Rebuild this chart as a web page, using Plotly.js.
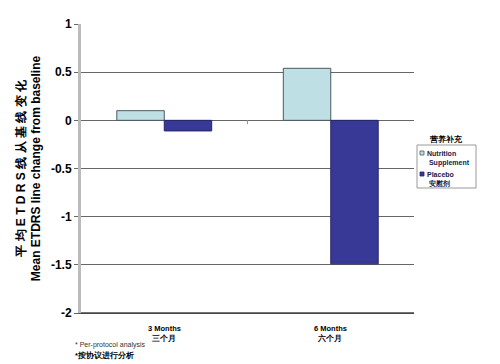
<!DOCTYPE html>
<html><head><meta charset="utf-8">
<script src="https://cdn.plot.ly/plotly-3.0.1.min.js"></script>
<style>body{margin:0}#c{width:500px;height:364px}</style></head>
<body><div id="c"></div>
<script>
const categories = ["3 Months<br>三个月", "6 Months<br>六个月"];
const nutrition = [0.10, 0.54];
const placebo = [-0.11, -1.49];
const seriesNames = ["Nutrition<br>Supplement", "Placebo<br>安慰剂"];
const legendTitle = "营养补充";
const yTicks = [1, 0.5, 0, -0.5, -1, -1.5, -2];

const font = "Liberation Sans, Arial, sans-serif";
const colors = ["#BEE0E4", "#383896"];
const edges = ["#4a5a60", "#25256a"];
const traces = [nutrition, placebo].map((v,i)=>({type:"bar", x:categories, y:v,
  name:seriesNames[i], showlegend:false,
  marker:{color:colors[i], line:{color:edges[i], width:1}}}));

// custom legend (paper coords: plot area is x 81..414, y 24..313 px)
const W = 333, H = 289;
const px = x => (x-81)/W, py = y => (313-y)/H;
const legendShapes = [
  {type:"rect", xref:"paper", yref:"paper", x0:px(417), x1:px(476), y0:py(188), y1:py(145),
   line:{color:"#999", width:1}, fillcolor:"#fff"},
  ...[151, 172].map((y,i)=>({type:"rect", xref:"paper", yref:"paper",
   x0:px(420), x1:px(424), y0:py(y+4), y1:py(y), fillcolor:colors[i],
   line:{color:edges[i], width:0.8}}))
];
const legendAnn = [
  {xref:"paper", yref:"paper", x:px(446), y:py(139), xanchor:"center", yanchor:"middle",
   text:"<b>"+legendTitle+"</b>", showarrow:false, font:{size:7.5, family:font}},
  ...[148, 169].map((y,i)=>({xref:"paper", yref:"paper", x:px(425), y:py(y), xanchor:"left", yanchor:"top",
   text:"<b>"+seriesNames[i].split("<br>").map((s,j)=>j? "&nbsp;"+s : s).join("<br>")+"</b>",
   showarrow:false, align:"left", font:{size:7, family:font, color:"#20204a"}}))
];

const layout = {
  width:500, height:364,
  margin:{l:81, r:86, t:24, b:51, autoexpand:false},
  paper_bgcolor:"#fff", plot_bgcolor:"#fff",
  barmode:"group", bargap:0.43, bargroupgap:0,
  font:{family:font, color:"#000"},
  showlegend:false,
  xaxis:{type:"category", range:[-0.5,1.5], showgrid:false, zeroline:false,
    showline:true, linecolor:"#555", linewidth:1, mirror:false,
    showticklabels:false, ticks:""},
  yaxis:{range:[-2,1], tickvals:yTicks, ticktext:yTicks.map(String),
    showgrid:true, gridcolor:"#666", gridwidth:1,
    zeroline:true, zerolinecolor:"#666", zerolinewidth:1,
    showline:true, linecolor:"#bbb", linewidth:3,
    ticks:"outside", ticklen:4, tickcolor:"#666",
    tickfont:{size:12, family:font, weight:"bold"},
    title:{text:"<b>平 均 E T D R S 线 从 基 线 变 化</b><br><b>Mean ETDRS line change from baseline</b>",
      font:{size:12, family:font}, standoff:8}},
  shapes:[{type:"line", xref:"x", yref:"y", x0:0.5, x1:0.5, y0:0, y1:-0.04,
    line:{color:"#999", width:1}},
    {type:"line", xref:"paper", yref:"paper", x0:0, x1:1, y0:0, y1:0,
    line:{color:"#444", width:1.5}}, ...legendShapes],
  annotations:[
    ...categories.map((c,i)=>({xref:"x", yref:"paper", x:i, y:-0.03, yanchor:"top",
      text:"<b>"+c+"</b>", showarrow:false, font:{size:7.5, family:font}})),
    ...legendAnn,
    {xref:"paper", yref:"paper", x:-0.025, y:-0.09, xanchor:"left", yanchor:"top",
      text:"* Per-protocol analysis", showarrow:false, font:{size:7, family:font, color:"#333"}},
    {xref:"paper", yref:"paper", x:-0.025, y:-0.125, xanchor:"left", yanchor:"top",
      text:"<b>*按协议进行分析</b>", showarrow:false, font:{size:7.5, family:font}}
  ]
};
Plotly.newPlot("c", traces, layout, {displayModeBar:false});
</script></body></html>
